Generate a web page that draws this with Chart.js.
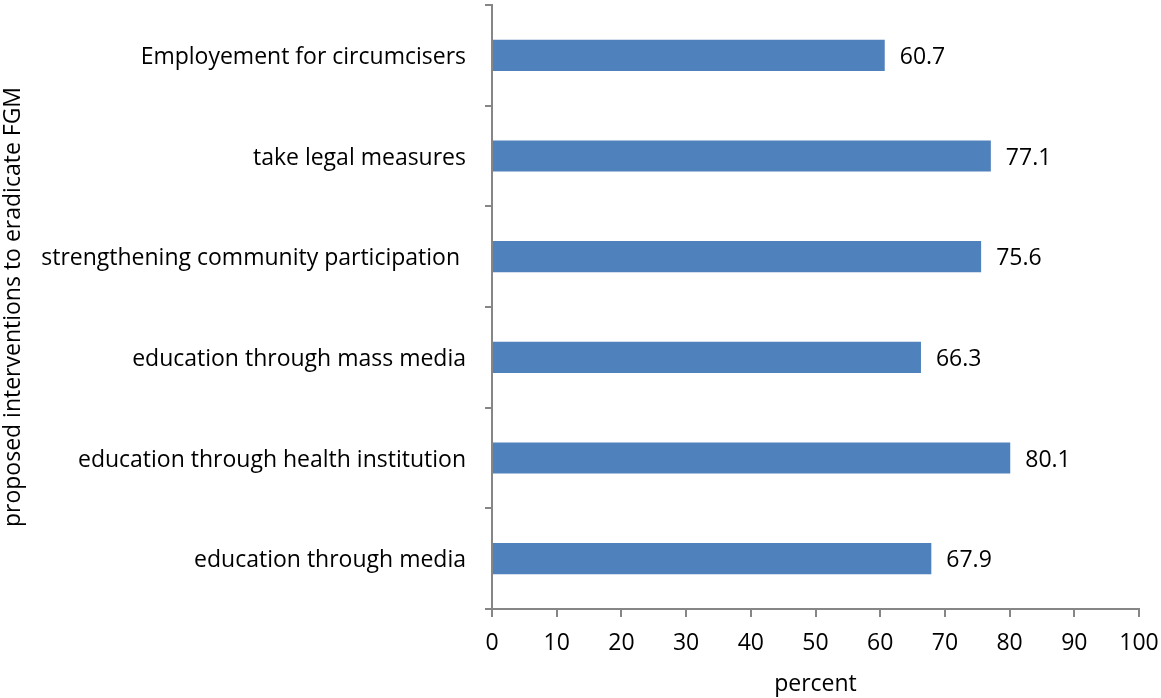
<!DOCTYPE html>
<html>
<head>
<meta charset="utf-8">
<script src="https://cdn.jsdelivr.net/npm/chart.js@4"></script>
<style>
  html, body { margin: 0; padding: 0; background: #ffffff; }
  #wrap { width: 1161px; height: 698px; }
</style>
</head>
<body>
<div id="wrap"><canvas id="chart" width="1161" height="698"></canvas></div>
<script>
var categories = [
    'Employement for circumcisers',
    'take legal measures',
    'strengthening community participation ',
    'education through mass media',
    'education through health institution',
    'education through media'
];
var percents = [60.7, 77.1, 75.6, 66.3, 80.1, 67.9];
var xTicks = [0, 10, 20, 30, 40, 50, 60, 70, 80, 90, 100];

var fontFamily = "'Open Sans', 'Liberation Sans', sans-serif";
var fontSize = 23;
var axisColor = '#868686';

// writes the value at the end of each bar
var valueLabels = {
    id: 'valueLabels',
    afterDatasetsDraw: function (chart) {
        var ctx = chart.ctx;
        var meta = chart.getDatasetMeta(0);
        ctx.save();
        ctx.font = fontSize + 'px ' + fontFamily;
        ctx.fillStyle = '#000000';
        ctx.textAlign = 'left';
        ctx.textBaseline = 'middle';
        meta.data.forEach(function (bar, i) {
            ctx.fillText(percents[i].toFixed(1), bar.x + 15, bar.y + 2);
        });
        ctx.restore();
    }
};

var ctx = document.getElementById('chart').getContext('2d');
new Chart(ctx, {
    type: 'bar',
    data: {
        labels: categories,
        datasets: [{
            data: percents,
            backgroundColor: '#4F81BD',
            borderWidth: 0,
            barPercentage: 0.62,
            categoryPercentage: 0.5
        }]
    },
    options: {
        indexAxis: 'y',
        responsive: false,
        animation: false,
        layout: { padding: { top: 5, right: 22, left: 0, bottom: 0 } },
        plugins: {
            legend: { display: false },
            tooltip: { enabled: false }
        },
        scales: {
            x: {
                min: 0,
                max: 100,
                afterBuildTicks: function (scale) {
                    scale.ticks = xTicks.map(function (v) { return { value: v }; });
                },
                afterFit: function (scale) {
                    scale.height = 89;
                    scale.paddingLeft = 0;
                    scale.paddingRight = 0;
                },
                border: { color: axisColor, width: 2 },
                grid: { drawOnChartArea: false, tickLength: 8, color: axisColor, lineWidth: 2 },
                ticks: { color: '#000', padding: 13, font: { family: fontFamily, size: fontSize } },
                title: {
                    display: true,
                    text: 'percent',
                    color: '#000',
                    padding: { top: 4, bottom: 0 },
                    font: { family: fontFamily, size: fontSize }
                }
            },
            y: {
                afterFit: function (scale) {
                    scale.width = 492;
                    scale.paddingTop = 0;
                    scale.paddingBottom = 0;
                },
                border: { color: axisColor, width: 2 },
                grid: { drawOnChartArea: false, tickLength: 7, color: axisColor, lineWidth: 2, offset: true },
                ticks: { color: '#000', padding: 19, labelOffset: 2, font: { family: fontFamily, size: fontSize } },
                title: {
                    display: true,
                    text: 'proposed interventions to eradicate FGM',
                    color: '#000',
                    padding: { top: 0, bottom: 0 },
                    font: { family: fontFamily, size: fontSize }
                }
            }
        }
    },
    plugins: [valueLabels]
});
</script>
</body>
</html>
